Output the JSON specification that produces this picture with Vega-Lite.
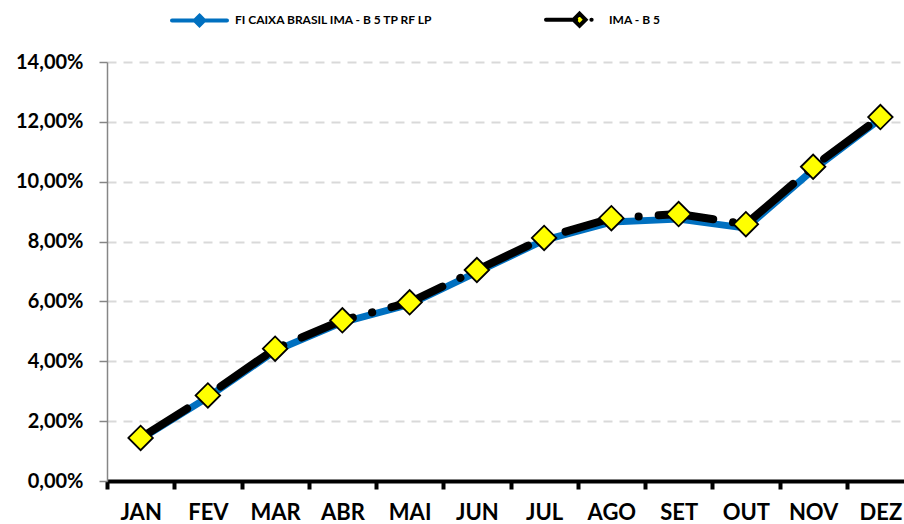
{
  "$schema": "https://vega.github.io/schema/vega-lite/v6.json",
  "autosize": {"type": "none"},
  "padding": {"left": 107, "top": 62, "right": 0, "bottom": 43},
  "width": 807,
  "height": 419,
  "background": "white",
  "config": {
    "view": {"stroke": null},
    "font": "Lato"
  },
  "data": {
    "values": [
      {"mes": "JAN", "serie": "FI CAIXA BRASIL IMA - B 5 TP RF LP", "valor": 1.40},
      {"mes": "FEV", "serie": "FI CAIXA BRASIL IMA - B 5 TP RF LP", "valor": 2.80},
      {"mes": "MAR", "serie": "FI CAIXA BRASIL IMA - B 5 TP RF LP", "valor": 4.35},
      {"mes": "ABR", "serie": "FI CAIXA BRASIL IMA - B 5 TP RF LP", "valor": 5.30},
      {"mes": "MAI", "serie": "FI CAIXA BRASIL IMA - B 5 TP RF LP", "valor": 5.90},
      {"mes": "JUN", "serie": "FI CAIXA BRASIL IMA - B 5 TP RF LP", "valor": 6.98},
      {"mes": "JUL", "serie": "FI CAIXA BRASIL IMA - B 5 TP RF LP", "valor": 8.05},
      {"mes": "AGO", "serie": "FI CAIXA BRASIL IMA - B 5 TP RF LP", "valor": 8.65},
      {"mes": "SET", "serie": "FI CAIXA BRASIL IMA - B 5 TP RF LP", "valor": 8.75},
      {"mes": "OUT", "serie": "FI CAIXA BRASIL IMA - B 5 TP RF LP", "valor": 8.45},
      {"mes": "NOV", "serie": "FI CAIXA BRASIL IMA - B 5 TP RF LP", "valor": 10.40},
      {"mes": "DEZ", "serie": "FI CAIXA BRASIL IMA - B 5 TP RF LP", "valor": 12.10},
      {"mes": "JAN", "serie": "IMA - B 5", "valor": 1.44},
      {"mes": "FEV", "serie": "IMA - B 5", "valor": 2.86},
      {"mes": "MAR", "serie": "IMA - B 5", "valor": 4.42},
      {"mes": "ABR", "serie": "IMA - B 5", "valor": 5.37},
      {"mes": "MAI", "serie": "IMA - B 5", "valor": 5.97},
      {"mes": "JUN", "serie": "IMA - B 5", "valor": 7.05},
      {"mes": "JUL", "serie": "IMA - B 5", "valor": 8.12},
      {"mes": "AGO", "serie": "IMA - B 5", "valor": 8.78},
      {"mes": "SET", "serie": "IMA - B 5", "valor": 8.92},
      {"mes": "OUT", "serie": "IMA - B 5", "valor": 8.58},
      {"mes": "NOV", "serie": "IMA - B 5", "valor": 10.50},
      {"mes": "DEZ", "serie": "IMA - B 5", "valor": 12.16}
    ]
  },
  "encoding": {
    "x": {
      "field": "mes",
      "type": "ordinal",
      "sort": ["JAN","FEV","MAR","ABR","MAI","JUN","JUL","AGO","SET","OUT","NOV","DEZ"],
      "scale": {"type": "band", "paddingInner": 0, "paddingOuter": 0},
      "axis": {
        "title": null,
        "labelAngle": 0,
        "labelFont": "Lato",
        "labelFontWeight": "bold",
        "labelFontSize": 22,
        "labelColor": "#000000",
        "labelPadding": 13,
        "domainColor": "#000000",
        "domainWidth": 4,
        "tickColor": "#000000",
        "tickWidth": 4,
        "tickSize": 8,
        "tickBand": "extent",
        "grid": false
      }
    },
    "y": {
      "field": "valor",
      "type": "quantitative",
      "scale": {"domain": [0, 14], "nice": false},
      "axis": {
        "title": null,
        "values": [0, 2, 4, 6, 8, 10, 12, 14],
        "labelExpr": "replace(format(datum.value, '.2f'), '.', ',') + '%'",
        "labelFont": "Lato",
        "labelFontWeight": "bold",
        "labelFontSize": 20,
        "labelColor": "#000000",
        "labelPadding": 16,
        "domainColor": "#868686",
        "domainWidth": 1.5,
        "tickColor": "#868686",
        "tickWidth": 1.5,
        "tickSize": 8,
        "grid": true,
        "gridColor": "#d9d9d9",
        "gridWidth": 2,
        "gridDash": [9, 7]
      }
    }
  },
  "layer": [
    {
      "transform": [{"filter": "datum.serie === 'FI CAIXA BRASIL IMA - B 5 TP RF LP'"}],
      "mark": {"type": "line", "strokeWidth": 7, "strokeCap": "butt", "strokeJoin": "round"},
      "encoding": {
        "color": {
          "field": "serie",
          "type": "nominal",
          "scale": {"domain": ["FI CAIXA BRASIL IMA - B 5 TP RF LP", "IMA - B 5"], "range": ["#0070C0", "#000000"]},
          "legend": {
            "title": null,
            "orient": "none",
            "direction": "horizontal",
            "legendX": 63,
            "legendY": -72,
            "padding": 0,
            "symbolSize": 3025,
            "symbolStrokeWidth": 5,
            "labelFont": "Lato",
            "labelFontWeight": "bold",
            "labelFontSize": 12,
            "labelColor": "#000000",
            "labelOffset": 6,
            "labelLimit": 400,
            "columnPadding": 104,
            "encode": {
              "symbols": {
                "update": {
                  "shape": {"signal": "datum.value === 'IMA - B 5' ? 'M-1,0H0.1M0.65,0H0.66M0.22,-0.22L0.44,0L0.22,0.22L0,0Z' : 'M-1,0H1M0,-0.17L0.17,0L0,0.17L-0.17,0Z'"},
                  "fill": {"signal": "datum.value === 'IMA - B 5' ? '#FFFF00' : '#1f3f66'"},
                  "stroke": {"signal": "datum.value === 'IMA - B 5' ? '#000000' : '#0070C0'"},
                  "strokeWidth": {"value": 4},
                  "strokeCap": {"value": "round"},
                  "strokeDash": {"value": []},
                  "opacity": {"value": 1},
                  "fillOpacity": {"value": 1}
                }
              }
            }
          }
        }
      }
    },
    {
      "transform": [{"filter": "datum.serie === 'FI CAIXA BRASIL IMA - B 5 TP RF LP'"}],
      "mark": {"type": "point", "shape": "diamond", "size": 90, "filled": true, "fill": "#0070C0", "stroke": "#000000", "strokeWidth": 1.5, "opacity": 1}
    },
    {
      "transform": [{"filter": "datum.serie === 'IMA - B 5'"}],
      "mark": {"type": "line", "strokeWidth": 8, "strokeCap": "round", "strokeJoin": "round", "strokeDash": [55, 20, 0.1, 20]},
      "encoding": {
        "color": {"field": "serie", "type": "nominal"}
      }
    },
    {
      "transform": [{"filter": "datum.serie === 'IMA - B 5'"}],
      "mark": {"type": "point", "shape": "diamond", "size": 600, "filled": true, "fill": "#FFFF00", "stroke": "#000000", "strokeWidth": 1.8, "opacity": 1}
    }
  ]
}
